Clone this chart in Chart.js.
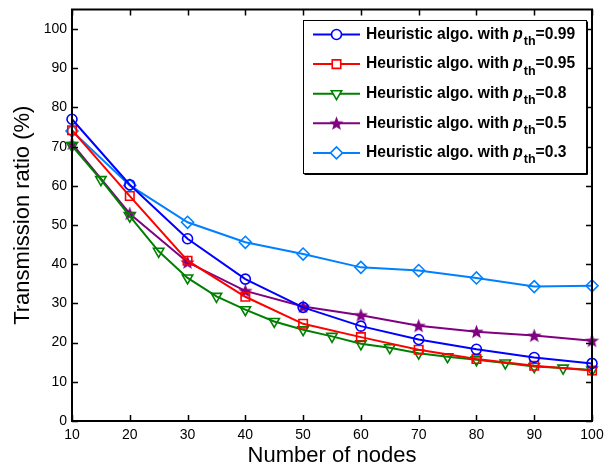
<!DOCTYPE html>
<html>
<head>
<meta charset="utf-8">
<script src="https://cdn.jsdelivr.net/npm/chart.js@4"></script>
<style>
  html, body { margin: 0; padding: 0; background: #fff; }
  #wrap { width: 605px; height: 467px; }
</style>
</head>
<body>
<div id="wrap"><canvas id="chart" width="605" height="467"></canvas></div>
<script>
// data
const nodes = [10, 20, 30, 40, 50, 60, 70, 80, 90, 100];
const nodesFine = [10, 15, 20, 25, 30, 35, 40, 45, 50, 55, 60, 65, 70, 75, 80, 85, 90, 95, 100];
const ratio099 = [77.0, 60.3, 46.5, 36.2, 29.0, 24.2, 20.8, 18.3, 16.2, 14.7];
const ratio095 = [74.2, 57.4, 40.9, 31.7, 24.8, 21.4, 18.2, 15.8, 14.1, 12.9];
const ratio08 = [70.2, 61.6, 52.3, 43.3, 36.5, 31.8, 28.4, 25.4, 23.3, 21.6, 19.7, 18.7, 17.3, 16.4, 15.6, 14.8, 13.9, 13.5, 13.0];
const ratio05 = [70.8, 52.9, 40.5, 33.2, 29.2, 27.0, 24.3, 22.8, 21.8, 20.5];
const ratio03 = [74.0, 60.1, 50.7, 45.6, 42.6, 39.2, 38.4, 36.5, 34.3, 34.5];
const thresholds = ["0.99", "0.95", "0.8", "0.5", "0.3"];
const xTicks = [10, 20, 30, 40, 50, 60, 70, 80, 90, 100];
const yTicks = [0, 10, 20, 30, 40, 50, 60, 70, 80, 90, 100];

const FONT = '"Liberation Sans", Arial, Helvetica, sans-serif';

function makeStar(color, size) {
  const c = document.createElement("canvas");
  c.width = size;
  c.height = size;
  const g = c.getContext("2d");
  const cx = size / 2, cy = size / 2 + 0.5, R = size / 2, r = R * 0.42;
  g.beginPath();
  for (let i = 0; i < 10; i++) {
    const a = -Math.PI / 2 + (i * Math.PI) / 5;
    const rad = i % 2 ? r : R;
    g.lineTo(cx + rad * Math.cos(a), cy + rad * Math.sin(a));
  }
  g.closePath();
  g.fillStyle = color;
  g.fill();
  return c;
}

function pairs(xs, ys) {
  return xs.map((x, i) => ({ x: x, y: ys[i] }));
}

const seriesStyle = [
  { color: "#0000ff", pointStyle: "circle", radius: 5, rotation: 0 },
  { color: "#ff0000", pointStyle: "rect", radius: 6, rotation: 0 },
  { color: "#008000", pointStyle: "triangle", radius: 6, rotation: 180 },
  { color: "#800080", pointStyle: makeStar("#800080", 15), radius: 6, rotation: 0 },
  { color: "#0080ff", pointStyle: "rectRot", radius: 6, rotation: 0 },
];

const seriesData = [
  pairs(nodes, ratio099),
  pairs(nodes, ratio095),
  pairs(nodesFine, ratio08),
  pairs(nodes, ratio05),
  pairs(nodes, ratio03),
];

const datasets = seriesData.map((d, i) => ({
  label: "p_th=" + thresholds[i],
  data: d,
  borderColor: seriesStyle[i].color,
  backgroundColor: "rgba(0,0,0,0)",
  borderWidth: 2,
  pointStyle: seriesStyle[i].pointStyle,
  pointRadius: seriesStyle[i].radius,
  pointRotation: seriesStyle[i].rotation,
  pointBorderWidth: 1.6,
  pointBorderColor: seriesStyle[i].color,
  pointBackgroundColor: "rgba(0,0,0,0)",
  tension: 0,
  clip: false,
}));

// axis box with inward ticks, MATLAB style
const boxPlugin = {
  id: "box",
  afterDraw(chart) {
    const ctx = chart.ctx;
    const a = chart.chartArea;
    const xs = chart.scales.x, ys = chart.scales.y;
    const len = 6;
    ctx.save();
    ctx.strokeStyle = "#000";
    ctx.lineWidth = 1.5;
    ctx.beginPath();
    xs.ticks.forEach((t) => {
      const px = Math.round(xs.getPixelForValue(t.value)) + 0.5;
      ctx.moveTo(px, a.bottom);
      ctx.lineTo(px, a.bottom - len);
      ctx.moveTo(px, a.top);
      ctx.lineTo(px, a.top + len);
    });
    ys.ticks.forEach((t) => {
      const py = Math.round(ys.getPixelForValue(t.value)) + 0.5;
      ctx.moveTo(a.left, py);
      ctx.lineTo(a.left + len, py);
      ctx.moveTo(a.right, py);
      ctx.lineTo(a.right - len, py);
    });
    ctx.stroke();
    ctx.lineWidth = 2;
    ctx.strokeRect(a.left, a.top, a.right - a.left, a.bottom - a.top);
    ctx.restore();
  },
};

// legend with subscript p_th
const legendPlugin = {
  id: "pthLegend",
  afterDraw(chart) {
    const ctx = chart.ctx;
    const a = chart.chartArea;
    const w = 283, h = 153;
    const left = Math.round(a.right - 6 - w), top = Math.round(a.top + 10);
    ctx.save();
    ctx.fillStyle = "#fff";
    ctx.fillRect(left, top, w, h);
    ctx.strokeStyle = "#000";
    ctx.lineWidth = 1;
    ctx.strokeRect(left + 0.5, top + 0.5, w, h);
    ctx.beginPath();
    ctx.moveTo(left + 1.5, top + h + 1.5);
    ctx.lineTo(left + w + 1.5, top + h + 1.5);
    ctx.lineTo(left + w + 1.5, top + 1.5);
    ctx.stroke();

    datasets.forEach((ds, i) => {
      const y = top + 14.5 + i * 29.6;
      ctx.strokeStyle = ds.borderColor;
      ctx.lineWidth = 2;
      ctx.beginPath();
      ctx.moveTo(left + 10, y);
      ctx.lineTo(left + 57, y);
      ctx.stroke();
      ctx.fillStyle = "#fff";
      ctx.lineWidth = ds.pointBorderWidth;
      Chart.helpers.drawPoint(ctx, {
        pointStyle: ds.pointStyle,
        radius: ds.pointRadius,
        rotation: ds.pointRotation,
        borderWidth: ds.pointBorderWidth,
      }, left + 33.5, y);

      ctx.fillStyle = "#000";
      ctx.textBaseline = "middle";
      let x = left + 63;
      ctx.font = "bold 15.6px " + FONT;
      const t1 = "Heuristic algo. with ";
      ctx.fillText(t1, x, y);
      x += ctx.measureText(t1).width;
      ctx.font = "italic bold 15.6px " + FONT;
      ctx.fillText("p", x, y);
      x += ctx.measureText("p").width + 1;
      ctx.font = "bold 12.5px " + FONT;
      ctx.fillText("th", x, y + 7);
      x += ctx.measureText("th").width;
      ctx.font = "bold 15.6px " + FONT;
      ctx.fillText("=" + thresholds[i], x, y);
    });
    ctx.restore();
  },
};

const ctx = document.getElementById("chart").getContext("2d");
new Chart(ctx, {
  type: "line",
  data: { datasets: datasets },
  options: {
    responsive: false,
    animation: false,
    devicePixelRatio: 1,
    layout: { padding: { top: 9.5, right: 13, left: 0, bottom: 0 } },
    plugins: {
      legend: { display: false },
      tooltip: { enabled: false },
    },
    scales: {
      x: {
        type: "linear",
        min: 10,
        max: 100,
        afterBuildTicks: (s) => { s.ticks = xTicks.map((v) => ({ value: v })); },
        afterFit: (s) => {
          s.height = 46;
          s.paddingLeft = 0;
          s.paddingRight = 0;
        },
        grid: { display: false, drawTicks: false },
        border: { display: false },
        ticks: {
          padding: 6,
          color: "#000",
          font: { family: FONT, size: 14 },
          maxRotation: 0,
        },
        title: {
          display: true,
          text: "Number of nodes",
          color: "#000",
          font: { family: FONT, size: 22, lineHeight: 1 },
          padding: { top: 0, bottom: 0 },
        },
      },
      y: {
        type: "linear",
        min: 0,
        max: 105,
        afterBuildTicks: (s) => { s.ticks = yTicks.map((v) => ({ value: v })); },
        afterFit: (s) => {
          s.width = 72;
          s.paddingTop = 0;
          s.paddingBottom = 0;
        },
        grid: { display: false, drawTicks: false },
        border: { display: false },
        ticks: {
          padding: 5,
          color: "#000",
          font: { family: FONT, size: 14 },
        },
        title: {
          display: true,
          text: "Transmission ratio (%)",
          color: "#000",
          font: { family: FONT, size: 22 },
          padding: { top: 10, bottom: 0 },
        },
      },
    },
  },
  plugins: [boxPlugin, legendPlugin],
});
</script>
</body>
</html>
